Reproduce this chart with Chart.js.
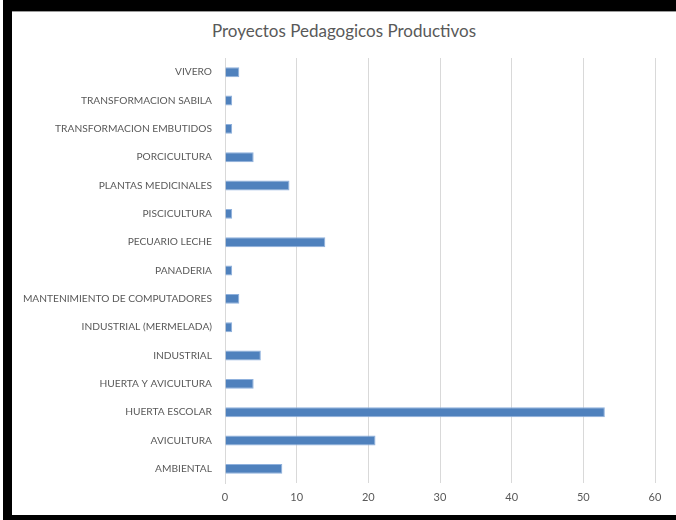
<!DOCTYPE html>
<html lang="es">
<head>
<meta charset="UTF-8"/>
<title>Proyectos Pedagogicos Productivos</title>
<script src="https://cdn.jsdelivr.net/npm/chart.js@4.4.1/dist/chart.umd.min.js"></script>
<style>
  html, body {margin:0; padding:0; background:#fff}
  #frame {position:absolute; left:3px; top:0; width:673px; height:520px; background:#000}
  #box {position:absolute; left:12px; top:11px; width:664px; height:503px; background:#fff; border-top:1px solid #9a9a9a}
  #title1 {position:absolute; left:0; top:8px; width:664px; height:21px; line-height:21px;
           text-align:center; font-family:Lato; font-size:17px; color:#595959}
  #chartBox {position:absolute; left:0; top:0; width:664px; height:503px}
</style>
</head>
<body>
<div id="frame"></div>
<div id="box">
  <div id="title1">Proyectos Pedagogicos Productivos</div>
  <div id="chartBox"><canvas id="Chart"></canvas></div>
</div>
<script>
// categories listed bottom to top, like the spreadsheet
const categorias = [
  'AMBIENTAL',
  'AVICULTURA',
  'HUERTA ESCOLAR',
  'HUERTA Y AVICULTURA',
  'INDUSTRIAL',
  'INDUSTRIAL (MERMELADA)',
  'MANTENIMIENTO DE COMPUTADORES',
  'PANADERIA',
  'PECUARIO LECHE',
  'PISCICULTURA',
  'PLANTAS MEDICINALES',
  'PORCICULTURA',
  'TRANSFORMACION EMBUTIDOS',
  'TRANSFORMACION SABILA',
  'VIVERO'
];
const proyectos = [8, 21, 53, 4, 5, 1, 2, 1, 14, 1, 9, 4, 1, 1, 2];
const ejeMin = 0;
const ejeMax = 60;
const ejePaso = 10;

const gris = '#595959';
const ctx = document.getElementById('Chart').getContext('2d');
const myChart = new Chart(ctx, {
  type: 'bar',
  data: {
    labels: categorias,
    datasets: [{
      label: 'Proyectos',
      data: proyectos,
      backgroundColor: '#4f81bd',
      borderColor: '#8fb1dd',
      borderWidth: 1,
      barPercentage: 1,
      categoryPercentage: 0.35
    }]
  },
  options: {
    indexAxis: 'y',
    responsive: true,
    maintainAspectRatio: false,
    animation: false,
    layout: {padding: {left: 0, right: 21, top: 46, bottom: 0}},
    plugins: {
      legend: {display: false},
      tooltip: {enabled: false}
    },
    scales: {
      x: {
        min: ejeMin,
        max: ejeMax,
        ticks: {stepSize: ejePaso, color: gris, font: {family: 'Lato', size: 11}, padding: 8},
        grid: {color: '#d9d9d9', drawTicks: false},
        border: {display: false},
        afterFit: s => { s.height = 32; }
      },
      y: {
        reverse: true,
        ticks: {color: gris, font: {family: 'Lato', size: 10.2}, padding: 13, autoSkip: false},
        grid: {display: false, drawTicks: false},
        border: {color: '#d9d9d9'},
        afterFit: s => { s.width = 213; }
      }
    }
  }
});
</script>
</body>
</html>
